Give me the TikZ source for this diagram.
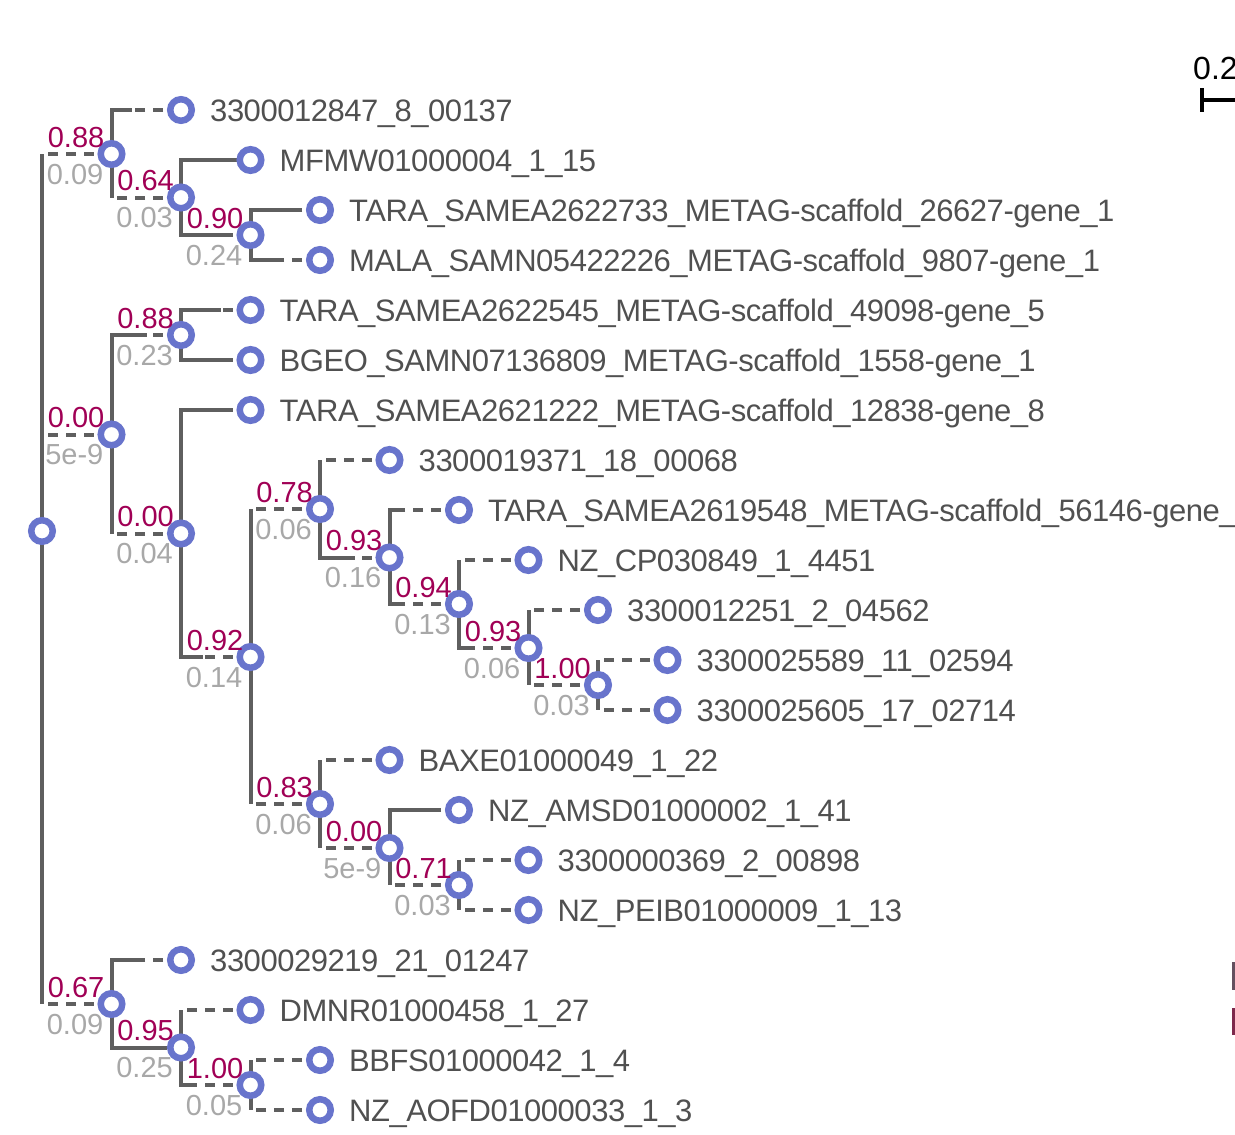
\documentclass[tikz,border=0pt]{standalone}
\usepackage{fontspec}
\setmainfont{Liberation Sans}
\newfontfamily\leaffont{Liberation Sans}[LetterSpace=-1.5]
\usetikzlibrary{calc,positioning,backgrounds}

\definecolor{branchgray}{RGB}{95,95,95}
\definecolor{nodeblue}{RGB}{104,116,204}
\definecolor{supportred}{RGB}{160,0,85}
\definecolor{lengthgray}{RGB}{168,168,168}
\definecolor{leafgray}{RGB}{80,80,80}
\definecolor{legendone}{RGB}{100,80,95}
\definecolor{legendtwo}{RGB}{125,40,75}

\tikzset{
  branch/.style={line width=4pt, draw=branchgray},
  stretch/.style={branch, dash pattern=on 10pt off 8pt},
  treenode/.style={circle, draw=nodeblue, line width=6.5pt, fill=white,
    minimum size=21.5pt, inner sep=0pt},
  leaflabel/.style={anchor=base west, inner sep=0pt, text=leafgray,
    font=\leaffont\fontsize{31}{31}\selectfont},
  support/.style={anchor=base east, inner sep=0pt, text=supportred,
    font=\fontsize{29}{29}\selectfont},
  brlen/.style={anchor=base east, inner sep=0pt, text=lengthgray,
    font=\fontsize{29}{29}\selectfont}
}

% leaf: name, x, y, text
\newcommand{\leaf}[4]{%
  \node[treenode] (#1) at (#2,#3) {};
  \node[leaflabel] (#1t) at ($(#1)+(29,11)$) {#4};
}
% clade: name, x, y, support, length
\newcommand{\clade}[5]{%
  \node[treenode] (#1) at (#2,#3) {};
  \node[support] (#1s) at ($(#1)+(-7,-7)$) {#4};
  \node[brlen] (#1l) at ($(#1)+(-8,30)$) {#5};
}
% edge: parent, child, solid part
\newcommand{\edge}[3]{%
  \draw[branch] (#1.center) |- ([xshift=#3pt]#1.center |- #2.center) coordinate (#2j);
  \draw[stretch] (#2.center) -- (#2j);
}

\begin{document}
\begin{tikzpicture}[x=1pt,y=-1pt]
    \useasboundingbox (0,0) rectangle (1235,1135);

    % inner nodes
    \node[treenode] (R) at (42,531) {};
    \clade{A}{111.5}{154}{0.88}{0.09}
    \clade{A1}{181}{197.5}{0.64}{0.03}
    \clade{A2}{250.5}{235}{0.90}{0.24}
    \clade{B}{111.5}{434.5}{0.00}{5e-9}
    \clade{B1}{181}{335}{0.88}{0.23}
    \clade{B2}{181}{533.5}{0.00}{0.04}
    \clade{B3}{250.5}{657}{0.92}{0.14}
    \clade{B4}{320}{509}{0.78}{0.06}
    \clade{B5}{389.5}{557.5}{0.93}{0.16}
    \clade{B6}{459}{604}{0.94}{0.13}
    \clade{B7}{528.5}{648}{0.93}{0.06}
    \clade{B8}{598}{685}{1.00}{0.03}
    \clade{B9}{320}{804}{0.83}{0.06}
    \clade{B10}{389.5}{848}{0.00}{5e-9}
    \clade{B11}{459}{885}{0.71}{0.03}
    \clade{C}{111.5}{1004}{0.67}{0.09}
    \clade{C1}{181}{1047.5}{0.95}{0.25}
    \clade{C2}{250.5}{1085}{1.00}{0.05}

    % leaves
    \leaf{L1}{181}{110}{3300012847\_8\_00137}
    \leaf{L2}{250.5}{160}{MFMW01000004\_1\_15}
    \leaf{L3}{320}{210}{TARA\_SAMEA2622733\_METAG-scaffold\_26627-gene\_1}
    \leaf{L4}{320}{260}{MALA\_SAMN05422226\_METAG-scaffold\_9807-gene\_1}
    \leaf{L5}{250.5}{310}{TARA\_SAMEA2622545\_METAG-scaffold\_49098-gene\_5}
    \leaf{L6}{250.5}{360}{BGEO\_SAMN07136809\_METAG-scaffold\_1558-gene\_1}
    \leaf{L7}{250.5}{410}{TARA\_SAMEA2621222\_METAG-scaffold\_12838-gene\_8}
    \leaf{L8}{389.5}{460}{3300019371\_18\_00068}
    \leaf{L9}{459}{510}{TARA\_SAMEA2619548\_METAG-scaffold\_56146-gene\_6}
    \leaf{L10}{528.5}{560}{NZ\_CP030849\_1\_4451}
    \leaf{L11}{598}{610}{3300012251\_2\_04562}
    \leaf{L12}{667.5}{660}{3300025589\_11\_02594}
    \leaf{L13}{667.5}{710}{3300025605\_17\_02714}
    \leaf{L14}{389.5}{760}{BAXE01000049\_1\_22}
    \leaf{L15}{459}{810}{NZ\_AMSD01000002\_1\_41}
    \leaf{L16}{528.5}{860}{3300000369\_2\_00898}
    \leaf{L17}{528.5}{910}{NZ\_PEIB01000009\_1\_13}
    \leaf{L18}{181}{960}{3300029219\_21\_01247}
    \leaf{L19}{250.5}{1010}{DMNR01000458\_1\_27}
    \leaf{L20}{320}{1060}{BBFS01000042\_1\_4}
    \leaf{L21}{320}{1110}{NZ\_AOFD01000033\_1\_3}

    % branches
    \begin{scope}[on background layer]
    \edge{R}{A}{0}   \edge{R}{B}{0}   \edge{R}{C}{0}
    \edge{A}{L1}{20} \edge{A}{A1}{0}
    \edge{A1}{L2}{70} \edge{A1}{A2}{45}
    \edge{A2}{L3}{42} \edge{A2}{L4}{28}
    \edge{B}{B1}{35} \edge{B}{B2}{0}
    \edge{B1}{L5}{40} \edge{B1}{L6}{45}
    \edge{B2}{L7}{43} \edge{B2}{B3}{22}
    \edge{B3}{B4}{0} \edge{B3}{B9}{0}
    \edge{B4}{L8}{0} \edge{B4}{B5}{35}
    \edge{B5}{L9}{10} \edge{B5}{B6}{13}
    \edge{B6}{L10}{0} \edge{B6}{B7}{11}
    \edge{B7}{L11}{0} \edge{B7}{B8}{0}
    \edge{B8}{L12}{0} \edge{B8}{L13}{0}
    \edge{B9}{L14}{0} \edge{B9}{B10}{0}
    \edge{B10}{L15}{42} \edge{B10}{B11}{0}
    \edge{B11}{L16}{0} \edge{B11}{L17}{0}
    \edge{C}{L18}{28} \edge{C}{C1}{55}
    \edge{C1}{L19}{0} \edge{C1}{C2}{10}
    \edge{C2}{L20}{0} \edge{C2}{L21}{0}
    \end{scope}

    % scale bar
    \node[anchor=base west, inner sep=0pt, font=\fontsize{32}{32}\selectfont] (scale) at (1193,79) {0.2};
    \draw[line width=3.5pt] (1202,88) -- (1202,112) (1202,100) -- (1240,100);

    % legend (cut off)
    \fill[legendone] (1232,962) rectangle (1240,990);
    \fill[legendtwo] (1232,1008) rectangle (1240,1035);
\end{tikzpicture}
\end{document}
